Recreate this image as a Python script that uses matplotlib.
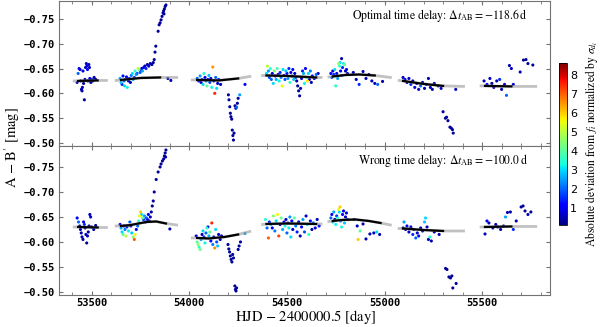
import matplotlib
matplotlib.use("Agg")
import matplotlib.pyplot as plt
import numpy as np

# light curve difference A - B' for two trial time delays
# each point: (day, mag, deviation)

top_points = [
    # season 1
    (53425, -0.622, 0.5), (53430, -0.640, 2.0), (53435, -0.650, 1.0), (53440, -0.648, 0.4),
    (53443, -0.625, 0.3), (53447, -0.608, 0.5), (53450, -0.605, 0.4), (53452, -0.612, 0.6),
    (53455, -0.645, 0.8), (53458, -0.620, 0.3), (53462, -0.587, 0.3), (53465, -0.628, 0.5),
    (53468, -0.652, 0.4), (53472, -0.660, 0.5), (53475, -0.655, 0.9), (53478, -0.648, 1.2),
    (53480, -0.625, 0.4), (53485, -0.658, 0.6), (53488, -0.652, 0.5), (53490, -0.630, 0.8),
    (53495, -0.622, 0.3), (53500, -0.628, 1.5), (53505, -0.625, 0.6), (53512, -0.632, 0.4),
    (53520, -0.628, 0.3),
    # season 2
    (53645, -0.630, 2.5), (53650, -0.622, 2.8), (53655, -0.618, 1.5), (53660, -0.635, 1.2),
    (53665, -0.625, 2.0), (53668, -0.615, 3.0), (53672, -0.628, 1.8), (53678, -0.633, 1.0),
    (53682, -0.612, 3.2), (53688, -0.625, 0.6), (53692, -0.630, 1.4), (53698, -0.622, 0.5),
    (53702, -0.636, 2.2), (53708, -0.640, 3.0), (53712, -0.628, 2.6), (53718, -0.632, 1.6),
    (53722, -0.645, 3.5), (53728, -0.638, 2.4), (53732, -0.640, 1.8), (53738, -0.650, 5.0),
    (53742, -0.648, 4.2), (53748, -0.642, 2.0), (53752, -0.646, 1.2), (53756, -0.650, 0.6),
    (53760, -0.645, 2.6), (53766, -0.652, 1.0), (53772, -0.655, 0.5), (53778, -0.650, 1.5),
    (53785, -0.658, 0.4), (53792, -0.655, 0.6), (53800, -0.660, 0.4), (53808, -0.658, 0.3),
    (53815, -0.662, 0.3), (53820, -0.668, 0.3), (53824, -0.683, 0.3), (53828, -0.695, 0.3),
    (53840, -0.725, 0.3), (53845, -0.738, 0.3), (53850, -0.742, 0.3), (53855, -0.748, 0.3),
    (53860, -0.755, 0.3), (53865, -0.762, 0.3), (53868, -0.766, 0.3), (53872, -0.770, 0.3),
    (53876, -0.775, 0.3), (53880, -0.778, 0.3), (53870, -0.760, 0.3), (53890, -0.630, 0.4),
    (53905, -0.626, 0.5),
    # season 3
    (54040, -0.630, 2.0), (54048, -0.625, 1.0), (54055, -0.635, 2.5), (54060, -0.622, 0.6),
    (54065, -0.628, 1.5), (54070, -0.618, 3.0), (54075, -0.640, 3.5), (54080, -0.632, 0.8),
    (54085, -0.625, 2.2), (54090, -0.615, 4.0), (54095, -0.628, 1.2), (54100, -0.636, 2.8),
    (54105, -0.622, 1.8), (54110, -0.630, 0.5), (54115, -0.612, 3.2), (54120, -0.653, 6.5),
    (54125, -0.625, 1.0), (54130, -0.600, 7.5), (54135, -0.632, 2.0), (54140, -0.610, 3.0),
    (54145, -0.620, 0.7), (54150, -0.628, 1.5), (54160, -0.618, 0.5),
    (54200, -0.597, 0.3), (54203, -0.587, 0.4), (54207, -0.573, 0.3), (54210, -0.560, 0.3),
    (54213, -0.553, 0.3), (54217, -0.548, 0.3), (54220, -0.526, 0.3), (54223, -0.515, 0.3),
    (54226, -0.506, 0.3), (54229, -0.520, 0.3), (54234, -0.575, 0.3), (54238, -0.570, 0.5),
    (54242, -0.572, 2.0), (54246, -0.580, 0.4), (54250, -0.590, 0.3), (54258, -0.597, 2.5),
    (54285, -0.618, 1.0),
    # season 4
    (54395, -0.640, 3.0), (54400, -0.655, 5.0), (54405, -0.645, 2.5), (54410, -0.632, 1.8),
    (54415, -0.650, 3.5), (54420, -0.628, 2.0), (54425, -0.640, 0.8), (54430, -0.620, 3.0),
    (54435, -0.645, 4.5), (54440, -0.635, 1.2), (54445, -0.628, 2.6), (54450, -0.650, 3.8),
    (54455, -0.638, 0.6), (54460, -0.625, 3.2), (54465, -0.642, 1.5), (54470, -0.632, 2.2),
    (54475, -0.615, 5.5), (54480, -0.648, 3.0), (54485, -0.636, 0.5), (54490, -0.628, 1.8),
    (54495, -0.645, 2.8), (54500, -0.640, 1.0), (54505, -0.630, 2.4), (54510, -0.650, 1.5),
    (54515, -0.622, 3.6), (54520, -0.642, 0.7), (54525, -0.635, 2.0), (54530, -0.648, 1.2),
    (54535, -0.628, 2.8), (54540, -0.640, 0.5), (54545, -0.632, 1.6), (54550, -0.625, 0.4),
    (54555, -0.615, 0.3), (54560, -0.605, 0.3), (54565, -0.595, 0.3), (54570, -0.610, 0.4),
    (54575, -0.630, 0.6), (54580, -0.645, 1.4), (54585, -0.640, 2.6), (54590, -0.620, 3.2),
    (54595, -0.650, 1.0), (54600, -0.632, 4.0), (54605, -0.625, 5.8), (54610, -0.640, 3.0),
    (54615, -0.628, 0.6), (54620, -0.645, 2.2), (54625, -0.622, 0.5), (54630, -0.635, 1.2),
    (54640, -0.630, 0.8), (54650, -0.638, 2.0), (54660, -0.640, 0.5),
    # season 5
    (54725, -0.640, 1.0), (54730, -0.632, 2.0), (54735, -0.645, 0.6), (54740, -0.638, 1.5),
    (54745, -0.648, 3.0), (54750, -0.615, 3.5), (54755, -0.640, 0.8), (54760, -0.630, 2.5),
    (54765, -0.660, 4.5), (54770, -0.655, 3.5), (54772, -0.662, 3.0), (54775, -0.645, 1.2),
    (54780, -0.670, 0.4), (54782, -0.636, 2.2), (54785, -0.652, 1.5), (54790, -0.660, 3.2),
    (54795, -0.658, 4.2), (54800, -0.645, 0.5), (54805, -0.648, 1.0), (54810, -0.640, 0.6),
    (54840, -0.642, 0.5), (54855, -0.628, 0.6), (54870, -0.618, 1.5), (54890, -0.644, 0.4),
    (54905, -0.630, 0.5), (54920, -0.638, 0.3), (54935, -0.625, 0.6), (54950, -0.620, 0.5),
    (54965, -0.618, 2.0), (54990, -0.624, 0.4),
    # season 6
    (55095, -0.632, 0.5), (55105, -0.628, 1.2), (55115, -0.622, 0.4), (55125, -0.630, 0.6),
    (55135, -0.618, 1.5), (55145, -0.625, 0.5), (55155, -0.612, 0.8), (55165, -0.620, 0.3),
    (55175, -0.608, 0.6), (55185, -0.615, 2.0), (55195, -0.622, 0.5), (55205, -0.610, 0.4),
    (55215, -0.618, 1.0), (55225, -0.630, 0.5), (55235, -0.612, 0.6), (55245, -0.608, 0.3),
    (55255, -0.620, 0.5), (55275, -0.615, 0.4), (55290, -0.610, 0.6), (55365, -0.608, 0.5),
    (55300, -0.563, 0.3), (55312, -0.550, 0.3), (55318, -0.552, 0.3), (55325, -0.545, 0.3),
    (55335, -0.532, 0.3), (55342, -0.530, 0.3), (55348, -0.527, 0.3), (55352, -0.520, 0.3),
    # season 7
    (55510, -0.625, 0.5), (55525, -0.618, 1.2), (55540, -0.630, 0.6), (55550, -0.620, 0.4),
    (55560, -0.612, 0.6), (55575, -0.625, 0.5), (55590, -0.628, 1.5), (55600, -0.608, 0.5),
    (55615, -0.618, 0.6), (55625, -0.596, 2.0), (55640, -0.656, 0.4), (55650, -0.650, 0.5),
    (55660, -0.618, 0.8), (55695, -0.643, 0.5), (55712, -0.667, 0.3), (55725, -0.668, 0.3),
    (55735, -0.660, 0.4), (55760, -0.657, 0.3),
]

bottom_points = [
    # season 1
    (53425, -0.648, 1.0), (53432, -0.640, 2.0), (53438, -0.632, 0.5), (53442, -0.625, 0.6),
    (53446, -0.618, 0.4), (53450, -0.610, 0.5), (53455, -0.605, 0.3), (53458, -0.640, 0.8),
    (53462, -0.635, 1.5), (53466, -0.628, 0.4), (53470, -0.615, 0.6), (53474, -0.598, 0.3),
    (53478, -0.612, 0.5), (53482, -0.620, 0.4), (53486, -0.632, 0.3), (53490, -0.655, 0.5),
    (53494, -0.650, 0.6), (53500, -0.630, 0.4), (53510, -0.625, 0.5), (53520, -0.633, 0.3),
    # season 2
    (53645, -0.635, 1.0), (53650, -0.628, 2.5), (53655, -0.620, 3.0), (53660, -0.615, 4.0),
    (53665, -0.632, 0.8), (53670, -0.625, 2.2), (53675, -0.612, 5.0), (53680, -0.630, 1.5),
    (53688, -0.622, 3.2), (53695, -0.640, 2.0), (53700, -0.632, 0.6), (53705, -0.618, 2.8),
    (53712, -0.610, 4.5), (53718, -0.605, 7.0), (53722, -0.615, 5.5), (53728, -0.625, 1.2),
    (53735, -0.632, 2.0), (53740, -0.642, 3.5), (53745, -0.652, 5.5), (53750, -0.660, 6.0),
    (53755, -0.655, 3.0), (53760, -0.648, 4.2), (53765, -0.645, 1.5), (53770, -0.652, 2.5),
    (53775, -0.640, 0.8), (53780, -0.648, 1.8), (53785, -0.645, 0.5), (53790, -0.655, 1.0),
    (53795, -0.642, 0.4), (53800, -0.650, 0.6), (53805, -0.660, 0.4),
    (53810, -0.672, 0.3), (53815, -0.682, 0.3), (53820, -0.700, 0.3), (53830, -0.725, 0.3),
    (53840, -0.740, 0.3), (53850, -0.750, 0.3), (53855, -0.756, 0.3), (53862, -0.762, 0.3),
    (53868, -0.766, 0.3), (53872, -0.772, 0.3), (53876, -0.778, 0.3), (53880, -0.784, 0.3),
    (53878, -0.770, 0.3), (53900, -0.626, 0.4),
    # season 3
    (54035, -0.612, 1.0), (54040, -0.600, 4.0), (54045, -0.595, 4.5), (54050, -0.590, 3.5),
    (54055, -0.585, 4.2), (54060, -0.605, 2.5), (54065, -0.615, 0.6), (54070, -0.622, 3.0),
    (54075, -0.610, 1.5), (54080, -0.598, 3.2), (54085, -0.618, 2.0), (54090, -0.628, 3.5),
    (54095, -0.630, 0.8), (54100, -0.612, 2.6), (54105, -0.620, 4.0), (54110, -0.602, 1.2),
    (54115, -0.638, 7.5), (54120, -0.595, 2.2), (54125, -0.610, 0.5), (54130, -0.588, 6.5),
    (54135, -0.625, 3.0), (54140, -0.600, 1.8), (54145, -0.592, 2.8), (54150, -0.615, 0.6),
    (54158, -0.605, 0.4), (54165, -0.612, 0.5),
    (54198, -0.595, 0.3), (54202, -0.586, 0.3), (54206, -0.580, 0.3), (54210, -0.572, 0.3),
    (54214, -0.565, 0.3), (54218, -0.560, 0.3), (54222, -0.575, 0.3), (54226, -0.568, 0.3),
    (54233, -0.512, 0.3), (54236, -0.505, 0.3), (54239, -0.502, 0.3), (54242, -0.508, 0.3),
    (54250, -0.585, 0.4), (54255, -0.592, 0.3), (54262, -0.600, 0.3), (54285, -0.617, 2.5),
    # season 4
    (54390, -0.645, 3.5), (54398, -0.628, 2.0), (54405, -0.608, 7.0), (54410, -0.640, 1.5),
    (54418, -0.635, 2.8), (54425, -0.628, 1.0), (54430, -0.652, 4.5), (54438, -0.622, 2.2),
    (54445, -0.642, 3.0), (54452, -0.655, 5.5), (54458, -0.612, 7.2), (54465, -0.635, 0.8),
    (54470, -0.648, 4.2), (54478, -0.625, 2.6), (54485, -0.640, 1.2), (54490, -0.632, 3.4),
    (54495, -0.645, 0.6), (54500, -0.618, 2.0), (54505, -0.638, 1.5), (54510, -0.628, 3.2),
    (54515, -0.650, 2.4), (54520, -0.610, 3.0), (54525, -0.642, 1.0), (54530, -0.625, 0.5),
    (54538, -0.648, 4.0), (54545, -0.632, 2.2), (54552, -0.620, 1.4), (54560, -0.640, 0.7),
    (54568, -0.612, 0.5), (54575, -0.630, 1.0), (54582, -0.645, 2.5), (54590, -0.620, 1.8),
    (54598, -0.652, 0.6), (54605, -0.635, 3.0), (54612, -0.615, 3.6), (54620, -0.642, 1.2),
    (54628, -0.625, 0.5), (54635, -0.638, 2.0), (54645, -0.628, 0.8), (54655, -0.645, 0.6),
    (54665, -0.632, 1.0),
    # season 5
    (54725, -0.648, 2.0), (54730, -0.655, 1.0), (54735, -0.640, 3.0), (54740, -0.660, 2.5),
    (54745, -0.645, 0.6), (54750, -0.635, 3.2), (54755, -0.652, 1.5), (54760, -0.648, 3.6),
    (54765, -0.665, 5.5), (54768, -0.660, 3.0), (54772, -0.670, 6.0), (54775, -0.642, 2.2),
    (54780, -0.630, 3.4), (54785, -0.655, 1.2), (54790, -0.662, 0.8), (54795, -0.638, 2.8),
    (54800, -0.650, 0.5), (54805, -0.658, 1.0), (54810, -0.645, 0.6),
    (54845, -0.645, 0.5), (54860, -0.632, 0.6), (54865, -0.605, 6.0), (54875, -0.622, 4.0),
    (54890, -0.636, 0.4), (54905, -0.606, 0.5), (54925, -0.616, 0.5), (54945, -0.618, 0.6),
    (54960, -0.620, 3.0), (54975, -0.615, 0.4),
    # season 6
    (55095, -0.628, 0.5), (55100, -0.640, 2.5), (55108, -0.625, 0.6), (55115, -0.632, 1.2),
    (55125, -0.620, 0.5), (55135, -0.630, 0.8), (55145, -0.615, 1.5), (55150, -0.625, 0.4),
    (55160, -0.608, 2.0), (55168, -0.618, 0.6), (55175, -0.612, 1.2), (55185, -0.628, 0.5),
    (55195, -0.622, 0.3), (55205, -0.640, 2.8), (55210, -0.648, 3.0), (55218, -0.630, 0.6),
    (55225, -0.605, 0.4), (55232, -0.610, 3.5), (55240, -0.602, 0.5), (55255, -0.620, 0.6),
    (55280, -0.615, 0.4),
    (55313, -0.547, 0.3), (55320, -0.545, 0.3), (55330, -0.530, 0.3), (55338, -0.528, 0.3),
    (55345, -0.532, 0.3), (55350, -0.508, 0.3), (55367, -0.517, 0.3),
    # season 7
    (55515, -0.616, 0.5), (55525, -0.642, 1.0), (55535, -0.638, 0.6), (55555, -0.628, 0.4),
    (55570, -0.635, 0.5), (55580, -0.630, 1.2), (55595, -0.625, 0.4), (55610, -0.632, 0.6),
    (55620, -0.650, 2.5), (55630, -0.659, 0.5), (55645, -0.660, 0.4), (55660, -0.625, 1.5),
    (55675, -0.642, 0.5), (55700, -0.670, 0.3), (55710, -0.672, 0.4), (55720, -0.662, 0.3),
    (55735, -0.655, 0.5), (55750, -0.660, 0.3),
]

# model curves per season: (days, mags)
top_model = [
    ([53410, 53430, 53530, 53575], [-0.625, -0.625, -0.626, -0.626]),
    ([53625, 53650, 53750, 53850, 53935], [-0.626, -0.627, -0.631, -0.632, -0.632]),
    ([54015, 54040, 54150, 54250, 54310], [-0.627, -0.627, -0.626, -0.630, -0.634]),
    ([54375, 54395, 54500, 54650, 54675], [-0.636, -0.636, -0.635, -0.632, -0.632]),
    ([54715, 54735, 54800, 54870, 54950, 55030], [-0.633, -0.634, -0.637, -0.638, -0.636, -0.632]),
    ([55075, 55095, 55200, 55300, 55405], [-0.626, -0.625, -0.619, -0.615, -0.614]),
    ([55495, 55515, 55650, 55775], [-0.615, -0.615, -0.614, -0.614]),
]
bottom_model = [
    ([53410, 53430, 53530, 53575], [-0.630, -0.630, -0.629, -0.629]),
    ([53625, 53650, 53700, 53780, 53830, 53880, 53935], [-0.632, -0.632, -0.634, -0.640, -0.641, -0.637, -0.634]),
    ([54015, 54040, 54100, 54180, 54250, 54310], [-0.608, -0.608, -0.607, -0.610, -0.615, -0.621]),
    ([54375, 54395, 54500, 54650, 54675], [-0.635, -0.636, -0.637, -0.636, -0.636]),
    ([54715, 54735, 54780, 54850, 54920, 54980, 55030], [-0.641, -0.642, -0.644, -0.645, -0.642, -0.638, -0.634]),
    ([55075, 55095, 55200, 55300, 55405], [-0.627, -0.627, -0.624, -0.622, -0.622]),
    ([55495, 55515, 55650, 55775], [-0.630, -0.630, -0.631, -0.631]),
]

labels = [r"Optimal time delay: $\Delta t_{\rm AB} = -118.6\,{\rm d}$",
          r"Wrong time delay: $\Delta t_{\rm AB} = -100.0\,{\rm d}$"]

plt.rcParams["mathtext.fontset"] = "stix"

fig = plt.figure(figsize=(6.0, 3.27), dpi=100)
ax1 = fig.add_axes([0.098, 0.5535, 0.819, 0.4435])
ax2 = fig.add_axes([0.098, 0.098, 0.819, 0.4555])
cax = fig.add_axes([0.932, 0.312, 0.0133, 0.495])

norm = plt.Normalize(vmin=0.1, vmax=8.6)

for ax, pts, model, lab, ylim in [(ax1, top_points, top_model, labels[0], (-0.494, -0.786)),
                                  (ax2, bottom_points, bottom_model, labels[1], (-0.494, -0.792))]:
    day, mag, dev = map(np.array, zip(*pts))
    order = np.argsort(dev)
    sc = ax.scatter(day[order], mag[order], c=dev[order], cmap="jet", norm=norm,
                    s=5, linewidths=0, zorder=2)
    for mx, my in model:
        ax.plot(mx, my, color="0.6", lw=2.0, alpha=0.6, zorder=3)
        ax.plot(mx[1:-1], my[1:-1], color="black", lw=1.6, zorder=4)
    ax.set_xlim(53331, 55849)
    ax.set_ylim(*ylim)
    ax.set_yticks([-0.75, -0.70, -0.65, -0.60, -0.55, -0.50])
    ax.set_xticks([53500, 54000, 54500, 55000, 55500])
    ax.set_xticks(np.arange(53400, 55850, 100), minor=True)
    ax.tick_params(direction="in", top=True, right=True, which="both",
                   color="0.45", labelsize=7.5, length=3, pad=2.5)
    ax.tick_params(which="minor", length=2)
    for lbl in ax.get_yticklabels() + ax.get_xticklabels():
        lbl.set_family("DejaVu Sans Mono")
        lbl.set_fontweight("bold")
    for s in ax.spines.values():
        s.set_color("0.45")
    ax.text(0.955, 0.90, lab, transform=ax.transAxes, ha="right", va="center",
            fontsize=8.5, family="STIXGeneral")

ax1.tick_params(labelbottom=False)

cb = fig.colorbar(sc, cax=cax, ticks=[1, 2, 3, 4, 5, 6, 7, 8])
cb.ax.tick_params(length=0, labelsize=8, pad=2)
cb.outline.set_linewidth(0.6)
cb.set_label(r"Absolute deviation from $f_i$ normalized by $\sigma_{d_i}$",
             family="STIXGeneral", fontsize=8.3, labelpad=3)
cb.ax.yaxis.set_label_coords(3.0, 0.5)

fig.text(0.02, 0.55, r"A $-$ B$'$ [mag]", rotation=90, ha="center", va="center",
         family="STIXGeneral", fontsize=10.5)
fig.text(0.51, 0.03, r"HJD $-$ 2400000.5 [day]", ha="center", va="center",
         family="STIXGeneral", fontsize=10.5)

fig.savefig("out.png", dpi=100)
